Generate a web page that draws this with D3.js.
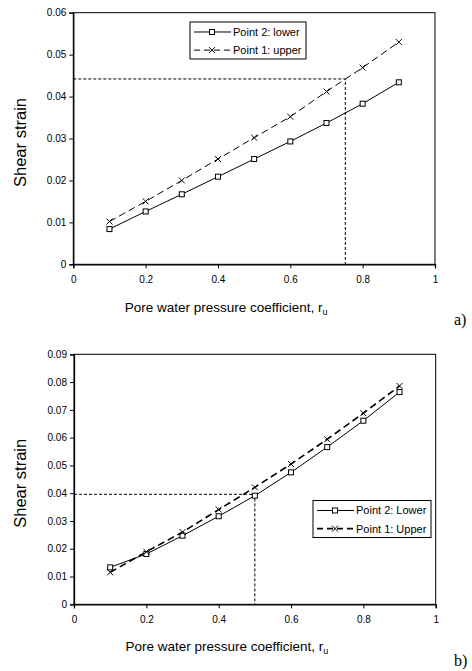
<!DOCTYPE html>
<html><head><meta charset="utf-8">
<script src="https://cdn.jsdelivr.net/npm/d3@7"></script>
<style>body{margin:0;background:#fff}svg{display:block}text{font-family:"Liberation Sans",Arial,sans-serif;fill:#000}</style>
</head><body><svg id="c" width="472" height="671"></svg>
<script>
const ru = [0.1,0.2,0.3,0.4,0.5,0.6,0.7,0.8,0.9];
const lowerA = [0.0084,0.0126,0.0167,0.0209,0.0251,0.0293,0.0337,0.0383,0.0434];
const upperA = [0.0102,0.0150,0.0200,0.0251,0.0302,0.0352,0.0412,0.0469,0.0530];
const lowerB = [0.0133,0.0181,0.0247,0.0317,0.0391,0.0475,0.0566,0.0661,0.0764];
const upperB = [0.0115,0.0189,0.0260,0.0341,0.0421,0.0505,0.0594,0.0688,0.0786];
const xTicks = [0,0.2,0.4,0.6,0.8,1];
const yTicksA = [0,0.01,0.02,0.03,0.04,0.05,0.06];
const yTicksB = [0,0.01,0.02,0.03,0.04,0.05,0.06,0.07,0.08,0.09];
const refA = [0.752,0.0442];
const refB = [0.5,0.0396];
const namesA = ["Point 2: lower","Point 1: upper"];
const namesB = ["Point 2: Lower","Point 1: Upper"];

const svg = d3.select("#c");

function panel(o){
  const g = svg.append("g");
  const x = d3.scaleLinear().domain([0,1]).range([o.x0,o.x1]);
  const y = d3.scaleLinear().domain([0,o.ymax]).range([o.y0,o.y1]);
  g.append("rect").attr("x",o.x0).attr("y",o.y1).attr("width",o.x1-o.x0).attr("height",o.y0-o.y1)
    .attr("fill","none").attr("stroke","#000").attr("stroke-width",1);
  const xa = g.append("g").attr("transform",`translate(0,${o.y0})`)
    .call(d3.axisBottom(x).tickValues(xTicks).tickSize(4).tickPadding(8).tickFormat(d3.format("")));
  const ya = g.append("g").attr("transform",`translate(${o.x0},0)`)
    .call(d3.axisLeft(y).tickValues(o.yTicks).tickSize(4).tickPadding(3).tickFormat(d=>d===0?"0":d3.format(".2f")(d)));
  [xa,ya].forEach(a=>{a.select(".domain").attr("stroke","#000").attr("stroke-width",1.3);
    a.selectAll("line").attr("stroke","#000");
    a.selectAll("text").attr("font-size",10).attr("fill","#000").style("font-family","Liberation Sans, Arial, sans-serif");});
  g.append("path").attr("d",`M${x(0)},${y(o.ref[1])}H${x(o.ref[0])}V${y(0)}`)
    .attr("fill","none").attr("stroke","#000").attr("stroke-width",1).attr("stroke-dasharray","3,2");
  const line = d3.line().x((d,i)=>x(ru[i])).y(d=>y(d));
  g.append("path").attr("d",line(o.lower)).attr("fill","none").attr("stroke","#000").attr("stroke-width",1);
  g.append("path").attr("d",line(o.upper)).attr("fill","none").attr("stroke","#000").attr("stroke-width",o.dashW).attr("stroke-dasharray","7,4");
  function sq(sel,cx,cy){sel.append("rect").attr("x",cx-2.5).attr("y",cy-2.5).attr("width",5).attr("height",5).attr("fill","#fff").attr("stroke","#000").attr("stroke-width",1);}
  function cr(sel,cx,cy){sel.append("path").attr("d",`M${cx-3},${cy-3}L${cx+3},${cy+3}M${cx-3},${cy+3}L${cx+3},${cy-3}`).attr("stroke","#000").attr("stroke-width",1);}
  o.lower.forEach((d,i)=>sq(g,x(ru[i]),y(d)));
  o.upper.forEach((d,i)=>cr(g,x(ru[i]),y(d)));
  g.append("text").attr("x",(o.x0+o.x1)/2-28).attr("y",o.titleY).attr("text-anchor","middle").attr("font-size",13.5)
    .html('Pore water pressure coefficient, r<tspan font-size="9" dy="3">u</tspan>');
  g.append("text").attr("transform",`translate(26,${(o.y0+o.y1)/2+4})rotate(-90)`).attr("text-anchor","middle").attr("font-size",16.5).text("Shear strain");
  g.append("text").attr("x",454).attr("y",o.labelY).attr("font-size",16).style("font-family","Liberation Serif, Times New Roman, serif").text(o.label);
  const L = o.leg;
  g.append("rect").attr("x",L.x).attr("y",L.y).attr("width",L.w).attr("height",L.h).attr("fill","#fff").attr("stroke","#000").attr("stroke-width",1);
  const r1 = L.y+L.h*0.27, r2 = L.y+L.h*0.76;
  g.append("line").attr("x1",L.x+4).attr("x2",L.x+41).attr("y1",r1).attr("y2",r1).attr("stroke","#000");
  sq(g,L.x+22,r1);
  g.append("line").attr("x1",L.x+4).attr("x2",L.x+41).attr("y1",r2).attr("y2",r2).attr("stroke","#000").attr("stroke-width",o.dashW).attr("stroke-dasharray","6,4");
  cr(g,L.x+22,r2);
  g.append("text").attr("x",L.x+43).attr("y",r1+4).attr("font-size",11).text(o.names[0]);
  g.append("text").attr("x",L.x+43).attr("y",r2+4).attr("font-size",11).text(o.names[1]);
}

panel({x0:73.3,x1:435,y0:264.3,y1:12.7,ymax:0.06,yTicks:yTicksA,lower:lowerA,upper:upperA,ref:refA,dashW:1,
  titleY:312,labelY:325,label:"a)",names:namesA,leg:{x:190,y:22,w:116,h:37}});
panel({x0:74,x1:435.7,y0:604.3,y1:354.3,ymax:0.09,yTicks:yTicksB,lower:lowerB,upper:upperB,ref:refB,dashW:1.6,
  titleY:651,labelY:666,label:"b)",names:namesB,leg:{x:313,y:500.5,w:118,h:37}});
</script></body></html>
